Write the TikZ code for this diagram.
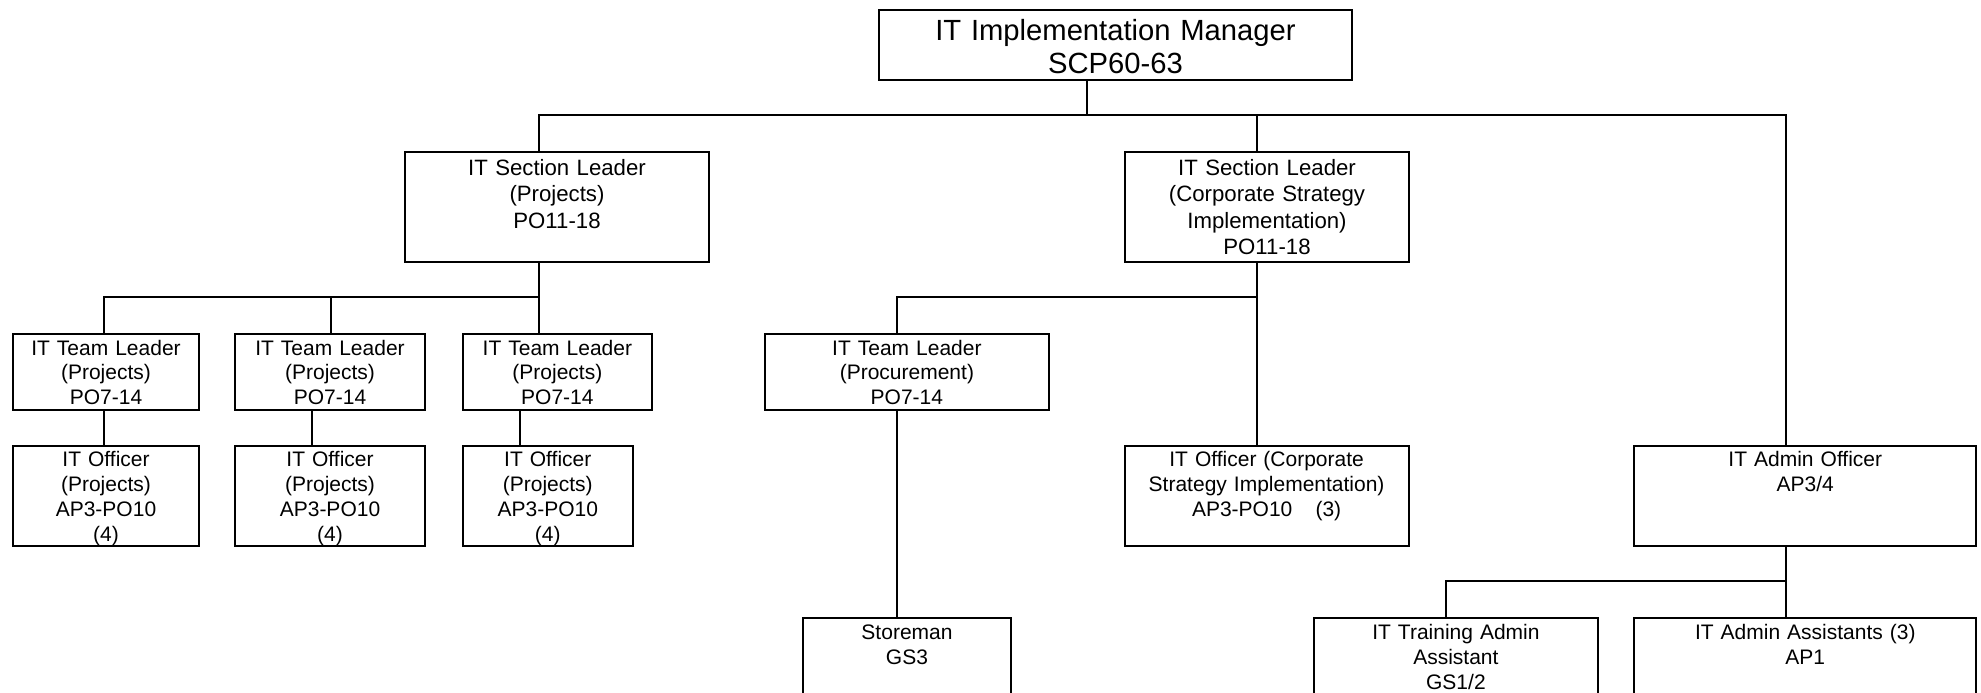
\documentclass[tikz,border=0pt]{standalone}
\usepackage{fontspec}
\setmainfont{Liberation Sans}

\tikzset{
  post/.style={draw,inner sep=0pt,align=center,anchor=north},
  mgrbox/.style={post,font=\fontsize{14.6}{16.5}\selectfont,text height=15pt,text depth=20pt},
  secbox/.style={post,font=\fontsize{11.1}{13.25}\selectfont,text height=11.65pt,text depth=43.5pt},
  leadbox/.style={post,font=\fontsize{10.5}{12.4}\selectfont,text height=10.65pt,text depth=27.5pt},
  offbox/.style={post,font=\fontsize{10.5}{12.4}\selectfont,text height=10.35pt,text depth=39.65pt},
  staffbox/.style={post,font=\fontsize{10.5}{12.4}\selectfont,text height=10.85pt,text depth=39.15pt}
}

\begin{document}
\begin{tikzpicture}[x=0.5pt,y=-0.5pt,line width=1pt,line cap=rect,line join=miter]
\useasboundingbox (0,0) rectangle (1981,692);
\clip (0,0) rectangle (1981,692);
% posts
\node[mgrbox,text width=236.5pt] (mgr) at (1115.5,9) {IT Implementation Manager\\SCP60-63};
\node[secbox,text width=152pt] (secP) at (557,150.7) {IT Section Leader\\(Projects)\\PO11-18};
\node[secbox,text width=142pt] (secC) at (1267,150.7) {IT Section Leader\\(Corporate Strategy\\Implementation)\\PO11-18};
\node[leadbox,text width=92.65pt] (leadA) at (106,332.7) {IT Team Leader\\(Projects)\\PO7-14};
\node[leadbox,text width=94.65pt] (leadB) at (330,332.7) {IT Team Leader\\(Projects)\\PO7-14};
\node[leadbox,text width=94.85pt] (leadC) at (557.4,332.7) {IT Team Leader\\(Projects)\\PO7-14};
\node[leadbox,text width=142.2pt] (leadProc) at (906.9,332.7) {IT Team Leader\\(Procurement)\\PO7-14};
\node[offbox,text width=92.65pt] (offA) at (106,445) {IT Officer\\(Projects)\\AP3-PO10\\(4)};
\node[offbox,text width=94.65pt] (offB) at (330,445) {IT Officer\\(Projects)\\AP3-PO10\\(4)};
\node[offbox,text width=85.25pt] (offC) at (547.8,445) {IT Officer\\(Projects)\\AP3-PO10\\(4)};
\node[offbox,text width=142pt] (offCorp) at (1266.6,445) {IT Officer (Corporate\\Strategy Implementation)\\AP3-PO10\hspace{1.1em}(3)};
\node[offbox,text width=170.9pt] (admOff) at (1805.3,445) {IT Admin Officer\\AP3/4};
\node[staffbox,text width=104.25pt] (store) at (907,616.7) {Storeman\\GS3};
\node[staffbox,text width=142pt] (train) at (1455.9,616.7) {IT Training Admin\\Assistant\\GS1/2};
\node[staffbox,text width=170.9pt] (asst) at (1805.3,616.7) {IT Admin Assistants (3)\\AP1};
% manager to sections
\coordinate (j0) at (1087,115);
\coordinate (jP) at (539,115);
\coordinate (jC) at (1256.7,115);
\coordinate (jA) at (1785.6,115);
\draw (j0 |- mgr.south) -- (j0);
\draw (jP) -- (jA);
\foreach \j/\n in {jP/secP,jC/secC,jA/admOff}
\draw (\j) -- (\j |- \n.north);
% projects section
\coordinate (kA) at (104,296.7);
\coordinate (kB) at (330.8,296.7);
\coordinate (kC) at (539,296.7);
\draw (kC |- secP.south) -- (kC) -- (kA);
\foreach \k/\n in {kA/leadA,kB/leadB,kC/leadC}
\draw (\k) -- (\k |- \n.north);
\coordinate (vA) at (104,0);
\coordinate (vB) at (311.6,0);
\coordinate (vC) at (519.6,0);
\foreach \v/\a/\b in {vA/leadA/offA,vB/leadB/offB,vC/leadC/offC}
\draw (\v |- \a.south) -- (\v |- \b.north);
% corporate section
\coordinate (kD) at (897,296.7);
\coordinate (kE) at (1256.7,296.7);
\draw (kE |- secC.south) -- (kE |- offCorp.north);
\draw (kE) -- (kD) -- (kD |- leadProc.north);
\draw (kD |- leadProc.south) -- (kD |- store.north);
% admin
\coordinate (kF) at (1445.5,580.7);
\coordinate (kG) at (1785.6,580.7);
\draw (kG |- admOff.south) -- (kG |- asst.north);
\draw (kG) -- (kF) -- (kF |- train.north);
\end{tikzpicture}
\end{document}
